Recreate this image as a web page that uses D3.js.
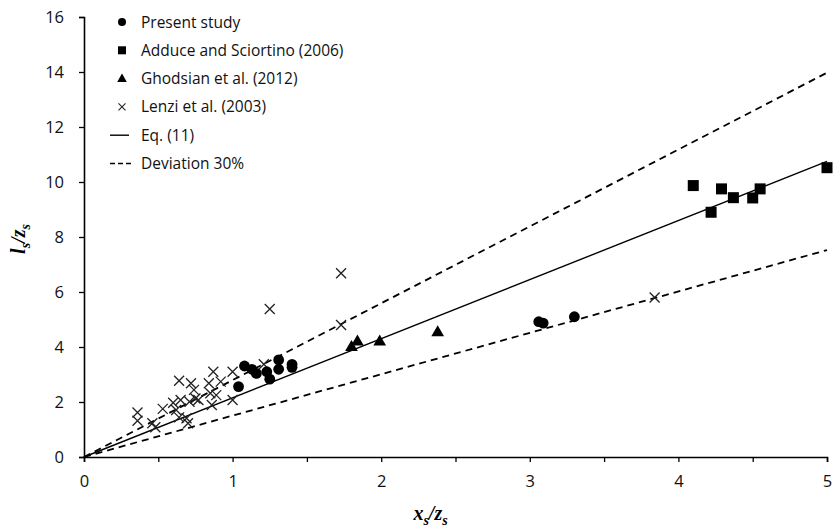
<!DOCTYPE html>
<html>
<head>
<meta charset="utf-8">
<script src="https://cdn.jsdelivr.net/npm/d3@7/dist/d3.min.js"></script>
<style>
  html, body { margin: 0; padding: 0; background: #fff; }
  svg { display: block; }
</style>
</head>
<body>
<svg id="chart" width="835" height="530"></svg>
<script>
// Present study (circles)
const presentX = [1.04, 1.08, 1.13, 1.16, 1.23, 1.25, 1.31, 1.31, 1.40, 1.40, 3.06, 3.09, 3.30];
const presentY = [2.56, 3.31, 3.19, 3.04, 3.10, 2.83, 3.53, 3.19, 3.37, 3.26, 4.92, 4.87, 5.10];

// Adduce and Sciortino (2006) (squares)
const adduceX = [4.10, 4.22, 4.29, 4.37, 4.50, 4.55, 5.00];
const adduceY = [9.87, 8.90, 9.75, 9.43, 9.42, 9.75, 10.52];

// Ghodsian et al. (2012) (triangles)
const ghodsianX = [1.80, 1.84, 1.99, 2.38];
const ghodsianY = [3.99, 4.19, 4.19, 4.52];

// Lenzi et al. (2003) (crosses)
const lenziX = [0.36, 0.36, 0.46, 0.48, 0.53, 0.60, 0.62, 0.64, 0.64, 0.65, 0.69, 0.70,
                0.71, 0.72, 0.74, 0.75, 0.77, 0.84, 0.85, 0.86, 0.87, 0.89, 0.92, 1.00,
                1.00, 1.21, 1.25, 1.73, 1.73, 3.84];
const lenziY = [1.62, 1.32, 1.23, 1.08, 1.75, 1.97, 1.71, 2.77, 1.44, 2.07, 1.41, 1.23,
                2.01, 2.68, 2.44, 2.13, 2.07, 2.68, 2.32, 1.89, 3.10, 2.25, 2.74, 3.10,
                2.07, 3.37, 5.38, 6.68, 4.80, 5.80];

// Eq. (11) slope and the ±30 % band
const eqSlope = 2.15;
const deviation = 0.30;
const lineX = [0, 5];

const xTicks = [0, 0.5, 1, 1.5, 2, 2.5, 3, 3.5, 4, 4.5, 5];
const xTickLabels = [0, 1, 2, 3, 4, 5];
const yTicks = [0, 2, 4, 6, 8, 10, 12, 14, 16];

const legendLabels = ["Present study", "Adduce and Sciortino (2006)", "Ghodsian et al. (2012)",
                      "Lenzi et al. (2003)", "Eq. (11)", "Deviation 30%"];

const svg = d3.select("#chart");
const plotLeft = 84, plotRight = 827, plotTop = 17, plotBottom = 457;

const x = d3.scaleLinear().domain([0, 5]).range([plotLeft, plotRight]);
const y = d3.scaleLinear().domain([0, 16]).range([plotBottom, plotTop]);

const labelFont = "'Open Sans', 'Noto Sans', sans-serif";

// Axes
const xAxis = d3.axisBottom(x).tickValues(xTicks).tickSize(5)
  .tickFormat(d => xTickLabels.includes(d) ? d3.format("d")(d) : "");
const gx = svg.append("g").attr("transform", `translate(0,${plotBottom})`).call(xAxis);
gx.select(".domain").attr("stroke", "#000").attr("stroke-width", 1.6);
gx.selectAll(".tick line").attr("stroke", "#000").attr("stroke-width", 1.3);
gx.selectAll(".tick text").attr("font-family", labelFont).attr("font-size", 16.5)
  .attr("fill", "#111").attr("y", 24).attr("dy", "0.35em");

const yAxis = d3.axisLeft(y).tickValues(yTicks).tickSize(5).tickFormat(d3.format("d"));
const gy = svg.append("g").attr("transform", `translate(${plotLeft},0)`).call(yAxis);
gy.select(".domain").attr("stroke", "#000").attr("stroke-width", 1.6);
gy.selectAll(".tick line").attr("stroke", "#000").attr("stroke-width", 1.3);
gy.selectAll(".tick text").attr("font-family", labelFont).attr("font-size", 16.5)
  .attr("fill", "#111").attr("x", -20);

// Axis titles
const serif = "'Liberation Serif', 'DejaVu Serif', serif";
const xTitle = svg.append("text").attr("x", (plotLeft + plotRight) / 2 - 25).attr("y", 520)
  .attr("text-anchor", "middle").attr("font-family", serif)
  .attr("font-weight", "bold").attr("font-style", "italic").attr("font-size", 20);
xTitle.append("tspan").text("x");
xTitle.append("tspan").attr("font-size", 14).attr("dy", 5).text("s");
xTitle.append("tspan").attr("dy", -5).text("/z");
xTitle.append("tspan").attr("font-size", 14).attr("dy", 5).text("s");

const yTitle = svg.append("text")
  .attr("transform", `translate(25,${(plotTop + plotBottom) / 2 + 2}) rotate(-90)`)
  .attr("text-anchor", "middle").attr("font-family", serif)
  .attr("font-weight", "bold").attr("font-style", "italic").attr("font-size", 20);
yTitle.append("tspan").text("l");
yTitle.append("tspan").attr("font-size", 14).attr("dy", 5).text("s");
yTitle.append("tspan").attr("dy", -5).text("/z");
yTitle.append("tspan").attr("font-size", 14).attr("dy", 5).text("s");

// Reference lines
const line = d3.line().x(d => x(d[0])).y(d => y(d[1]));
const plot = svg.append("g");
plot.append("path").datum(lineX.map(v => [v, v * eqSlope * (1 + deviation)]))
  .attr("d", line).attr("fill", "none").attr("stroke", "#000").attr("stroke-width", 1.8)
  .attr("stroke-dasharray", "7,5");
plot.append("path").datum(lineX.map(v => [v, v * eqSlope * (1 - deviation)]))
  .attr("d", line).attr("fill", "none").attr("stroke", "#000").attr("stroke-width", 1.8)
  .attr("stroke-dasharray", "7,5");
plot.append("path").datum(lineX.map(v => [v, v * eqSlope]))
  .attr("d", line).attr("fill", "none").attr("stroke", "#000").attr("stroke-width", 1.4);

// Markers
const zip = (a, b) => a.map((v, i) => [v, b[i]]);

const crossPath = s => `M${-s},${-s}L${s},${s}M${-s},${s}L${s},${-s}`;
plot.append("g").selectAll("path").data(zip(lenziX, lenziY)).join("path")
  .attr("transform", d => `translate(${x(d[0])},${y(d[1])})`)
  .attr("d", crossPath(5)).attr("fill", "none").attr("stroke", "#222").attr("stroke-width", 1.3);

plot.append("g").selectAll("path").data(zip(ghodsianX, ghodsianY)).join("path")
  .attr("transform", d => `translate(${x(d[0])},${y(d[1])})`)
  .attr("d", d3.symbol(d3.symbolTriangle, 70)()).attr("fill", "#000");

plot.append("g").selectAll("rect").data(zip(adduceX, adduceY)).join("rect")
  .attr("x", d => x(d[0]) - 5.5).attr("y", d => y(d[1]) - 5.5)
  .attr("width", 11).attr("height", 11).attr("fill", "#000");

plot.append("g").selectAll("circle").data(zip(presentX, presentY)).join("circle")
  .attr("cx", d => x(d[0])).attr("cy", d => y(d[1])).attr("r", 5.4).attr("fill", "#000");

// Legend
const lg = svg.append("g");
const rowY = i => 22 + i * 28.3;
const mx = 122, tx = 141;
lg.append("circle").attr("cx", mx).attr("cy", rowY(0)).attr("r", 4).attr("fill", "#000");
lg.append("rect").attr("x", mx - 4).attr("y", rowY(1) - 4).attr("width", 8).attr("height", 8).attr("fill", "#000");
lg.append("path").attr("transform", `translate(${mx},${rowY(2) + 0.5})`)
  .attr("d", d3.symbol(d3.symbolTriangle, 40)()).attr("fill", "#000");
lg.append("path").attr("transform", `translate(${mx},${rowY(3)})`)
  .attr("d", crossPath(3.5)).attr("fill", "none").attr("stroke", "#222").attr("stroke-width", 1.1);
lg.append("line").attr("x1", 110).attr("x2", 129).attr("y1", rowY(4)).attr("y2", rowY(4))
  .attr("stroke", "#000").attr("stroke-width", 1.4);
lg.append("line").attr("x1", 110).attr("x2", 132).attr("y1", rowY(5)).attr("y2", rowY(5))
  .attr("stroke", "#000").attr("stroke-width", 1.6).attr("stroke-dasharray", "5,3");
lg.selectAll("text").data(legendLabels).join("text")
  .attr("x", tx).attr("y", (d, i) => rowY(i)).attr("dy", "0.36em")
  .attr("font-family", labelFont).attr("font-size", 15.5).attr("fill", "#111")
  .text(d => d);
</script>
</body>
</html>
